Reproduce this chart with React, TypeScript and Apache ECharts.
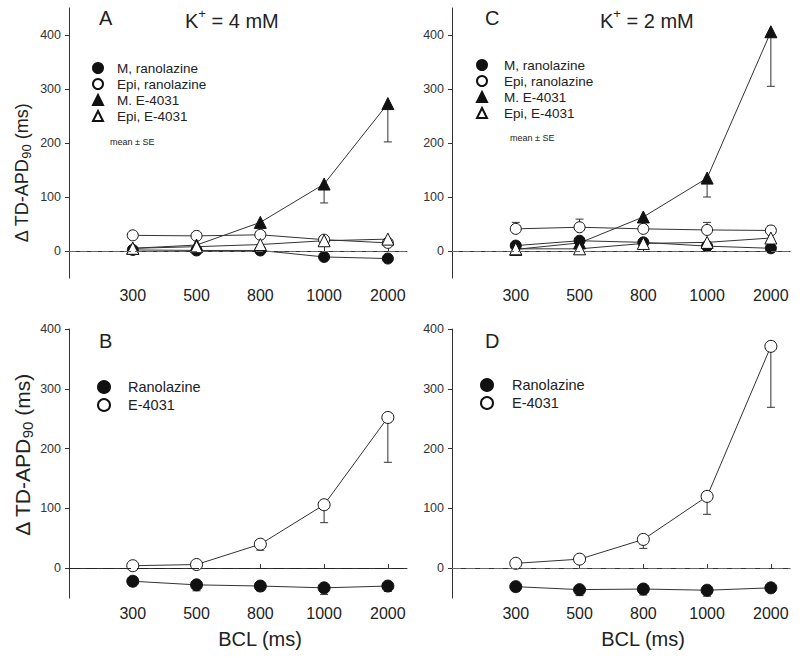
import React, { useEffect, useRef } from "react";
import * as echarts from "echarts";

const categories = ["300", "500", "800", "1000", "2000"];

// Panel A (K+ = 4 mM)
const aMRan = [2, 1, 1, -11, -14];
const aEpiRan = [29, 28, 30, 21, 15];
const aME4031 = [5, 11, 53, 124, 273];
const aME4031SE = [3, 4, 8, 35, 71];
const aEpiE4031 = [5, 8, 12, 19, 22];

// Panel C (K+ = 2 mM)
const cMRan = [10, 19, 16, 9, 5];
const cEpiRan = [41, 44, 41, 39, 38];
const cEpiRanSE = [12, 15, 6, 14, 8];
const cME4031 = [3, 15, 63, 135, 406];
const cME4031SE = [3, 5, 8, 35, 101];
const cEpiE4031 = [4, 4, 14, 16, 24];

// Panel B (K+ = 4 mM, transmural dispersion)
const bRan = [-22, -28, -30, -33, -30];
const bRanSE = [3, 10, 8, 11, 9];
const bE4031 = [4, 6, 40, 106, 252];
const bE4031SE = [2, 3, 10, 30, 75];

// Panel D (K+ = 2 mM)
const dRan = [-31, -36, -35, -37, -33];
const dRanSE = [8, 10, 10, 10, 6];
const dE4031 = [8, 15, 48, 120, 371];
const dE4031SE = [3, 4, 15, 30, 102];

const yTicks = [0, 100, 200, 300, 400];
const xPositions = [1, 2, 3, 4, 5];

const FONT = "'Liberation Sans', Arial, Helvetica, sans-serif";
const INK = "#222";

const pts = (vals: number[]) => vals.map((v, i) => [xPositions[i], v]);
const errPts = (vals: number[], se: number[], dir: number) =>
  vals.map((v, i) => [xPositions[i], v, v + dir * se[i]]);

function errRender(params: any, api: any) {
  const x = api.value(0);
  const p0 = api.coord([x, api.value(1)]);
  const p1 = api.coord([x, api.value(2)]);
  const hw = 4;
  const st = { stroke: "#333", lineWidth: 1 };
  return {
    type: "group",
    children: [
      { type: "line", shape: { x1: p0[0], y1: p0[1], x2: p1[0], y2: p1[1] }, style: st },
      { type: "line", shape: { x1: p1[0] - hw, y1: p1[1], x2: p1[0] + hw, y2: p1[1] }, style: st },
    ],
  };
}

const filled = { color: "#111", borderColor: "#111", borderWidth: 1 };
const hollow = { color: "#fff", borderColor: "#111", borderWidth: 1 };

function lineSeries(name: string, vals: number[], grid: number, symbol: string, style: any, size: number, extra: any = {}) {
  return {
    type: "line",
    name,
    xAxisIndex: grid,
    yAxisIndex: grid,
    data: pts(vals),
    symbol,
    symbolSize: size,
    itemStyle: style,
    lineStyle: { color: "#333", width: 1 },
    z: 3,
    ...extra,
  };
}

function errSeries(vals: number[], se: number[], dir: number, grid: number) {
  return {
    type: "custom",
    xAxisIndex: grid,
    yAxisIndex: grid,
    renderItem: errRender,
    encode: { x: 0, y: [1, 2] },
    data: errPts(vals, se, dir),
    z: 2,
    silent: true,
  };
}

function zeroLine(dash: number[], color: string) {
  return {
    silent: true,
    symbol: "none",
    label: { show: false },
    lineStyle: { type: dash, color, width: 1 },
    data: [{ yAxis: 0 }],
  };
}

export default function App() {
  const ref = useRef<HTMLDivElement>(null);
  useEffect(() => {
    if (!ref.current) return;
    const chart = echarts.init(ref.current, undefined, { renderer: "svg" });

    const grids = [
      { left: 69, top: 8, width: 338, height: 270 },
      { left: 452, top: 8, width: 338, height: 270 },
      { left: 69, top: 329, width: 338, height: 269 },
      { left: 452, top: 329, width: 338, height: 269 },
    ];

    const xAxes = grids.map((g, i) => ({
      type: "value",
      gridIndex: i,
      min: 0,
      max: 5.3,
      splitLine: { show: false },
      axisLine: { lineStyle: { color: "#333", width: 1 } },
      axisTick: { show: true, inside: true, length: 4, customValues: xPositions, lineStyle: { color: "#333" } },
      axisLabel: {
        customValues: xPositions,
        formatter: (v: number) => categories[Math.round(v) - 1] ?? "",
        fontSize: 16,
        color: INK,
        fontFamily: FONT,
        margin: i < 2 ? 9 : 7,
      },
      ...(i >= 2
        ? {
            name: "BCL (ms)",
            nameLocation: "middle",
            nameGap: 31,
            nameTextStyle: { fontSize: 20, color: INK, fontFamily: FONT, padding: [0, 0, 0, 44] },
          }
        : {}),
    }));

    const yAxes = grids.map((g, i) => ({
      type: "value",
      gridIndex: i,
      min: -50,
      max: i < 2 ? 450 : 400,
      splitLine: { show: false },
      axisLine: { show: true, lineStyle: { color: "#333", width: 1 } },
      axisTick: { show: true, length: 4, customValues: yTicks, lineStyle: { color: "#333" } },
      axisLabel: { customValues: yTicks, fontSize: 12.5, color: "#333", fontFamily: FONT, margin: 8 },
    }));

    const legendBase = {
      orient: "vertical",
      padding: 0,
      selectedMode: false,
      itemGap: 0,
    };

    const option: any = {
      animation: false,
      backgroundColor: "#fff",
      grid: grids,
      xAxis: xAxes,
      yAxis: yAxes,
      legend: [
        {
          ...legendBase,
          left: 92,
          top: 60,
          itemWidth: 10,
          itemHeight: 10,
          textStyle: { fontSize: 13.5, color: INK, fontFamily: FONT, lineHeight: 16, padding: [0, 0, 0, 9] },
          data: [
            { name: "M, ranolazine", icon: "circle" },
            { name: "Epi, ranolazine", icon: "circle" },
            { name: "M. E-4031", icon: "triangle" },
            { name: "Epi, E-4031", icon: "triangle" },
          ],
        },
        {
          ...legendBase,
          left: 476,
          top: 57,
          itemWidth: 10,
          itemHeight: 10,
          textStyle: { fontSize: 13.5, color: INK, fontFamily: FONT, lineHeight: 16, padding: [0, 0, 0, 12] },
          data: [
            { name: "M, ranolazine", icon: "circle" },
            { name: "Epi, ranolazine", icon: "circle" },
            { name: "M. E-4031", icon: "triangle" },
            { name: "Epi, E-4031", icon: "triangle" },
          ],
        },
        {
          ...legendBase,
          left: 97,
          top: 378,
          itemWidth: 12,
          itemHeight: 12,
          textStyle: { fontSize: 14.5, color: INK, fontFamily: FONT, lineHeight: 18, padding: [0, 0, 0, 13] },
          data: [
            { name: "Ranolazine", icon: "circle" },
            { name: "E-4031", icon: "circle" },
          ],
        },
        {
          ...legendBase,
          left: 480,
          top: 376,
          itemWidth: 12,
          itemHeight: 12,
          textStyle: { fontSize: 14.5, color: INK, fontFamily: FONT, lineHeight: 18, padding: [0, 0, 0, 14] },
          data: [
            { name: "Ranolazine", icon: "circle" },
            { name: "E-4031", icon: "circle" },
          ],
        },
      ],
      graphic: [
        { type: "text", x: 99, y: 18, style: { text: "A", fontSize: 20, fontFamily: FONT, fill: INK, verticalAlign: "middle" } },
        { type: "text", x: 485, y: 18, style: { text: "C", fontSize: 20, fontFamily: FONT, fill: INK, verticalAlign: "middle" } },
        { type: "text", x: 99, y: 341, style: { text: "B", fontSize: 20, fontFamily: FONT, fill: INK, verticalAlign: "middle" } },
        { type: "text", x: 485, y: 341, style: { text: "D", fontSize: 20, fontFamily: FONT, fill: INK, verticalAlign: "middle" } },
        {
          type: "text",
          x: 185,
          y: 19,
          style: {
            text: "{k|K}{p|+}{k| = 4 mM}",
            verticalAlign: "middle",
            fill: INK,
            rich: {
              k: { fontSize: 20, fontFamily: FONT, fill: INK, lineHeight: 24, verticalAlign: "bottom" },
              p: { fontSize: 13, fontFamily: FONT, fill: INK, lineHeight: 13, verticalAlign: "top" },
            },
          },
        },
        {
          type: "text",
          x: 600,
          y: 19,
          style: {
            text: "{k|K}{p|+}{k| = 2 mM}",
            verticalAlign: "middle",
            fill: INK,
            rich: {
              k: { fontSize: 20, fontFamily: FONT, fill: INK, lineHeight: 24, verticalAlign: "bottom" },
              p: { fontSize: 13, fontFamily: FONT, fill: INK, lineHeight: 13, verticalAlign: "top" },
            },
          },
        },
        { type: "text", x: 110, y: 142, style: { text: "mean ± SE", fontSize: 9, fontFamily: FONT, fill: INK, verticalAlign: "middle" } },
        { type: "text", x: 510, y: 138, style: { text: "mean ± SE", fontSize: 9, fontFamily: FONT, fill: INK, verticalAlign: "middle" } },
        {
          type: "text",
          x: 23,
          y: 173,
          rotation: Math.PI / 2,
          style: {
            text: "{a|Δ TD-APD}{s|90}{a| (ms)}",
            align: "center",
            verticalAlign: "middle",
            fill: INK,
            rich: {
              a: { fontSize: 18, fontFamily: FONT, fill: INK, lineHeight: 20, verticalAlign: "top" },
              s: { fontSize: 13, fontFamily: FONT, fill: INK, lineHeight: 13, padding: [9, 0, 0, 0], verticalAlign: "bottom" },
            },
          },
        },
        {
          type: "text",
          x: 23,
          y: 455,
          rotation: Math.PI / 2,
          style: {
            text: "{a|Δ TD-APD}{s|90}{a| (ms)}",
            align: "center",
            verticalAlign: "middle",
            fill: INK,
            rich: {
              a: { fontSize: 21, fontFamily: FONT, fill: INK, lineHeight: 23, verticalAlign: "top" },
              s: { fontSize: 15, fontFamily: FONT, fill: INK, lineHeight: 15, padding: [10, 0, 0, 0], verticalAlign: "bottom" },
            },
          },
        },
      ],
      series: [
        // Panel A
        errSeries(aME4031, aME4031SE, -1, 0),
        lineSeries("M, ranolazine", aMRan, 0, "circle", filled, 11, { markLine: zeroLine([7, 4], "#666") }),
        lineSeries("Epi, ranolazine", aEpiRan, 0, "circle", hollow, 11),
        lineSeries("M. E-4031", aME4031, 0, "triangle", filled, 12),
        lineSeries("Epi, E-4031", aEpiE4031, 0, "triangle", hollow, 12),
        // Panel C
        errSeries(cEpiRan, cEpiRanSE, 1, 1),
        errSeries(cME4031, cME4031SE, -1, 1),
        lineSeries("M, ranolazine", cMRan, 1, "circle", filled, 11, { markLine: zeroLine([7, 4], "#666") }),
        lineSeries("Epi, ranolazine", cEpiRan, 1, "circle", hollow, 11),
        lineSeries("M. E-4031", cME4031, 1, "triangle", filled, 12),
        lineSeries("Epi, E-4031", cEpiE4031, 1, "triangle", hollow, 12),
        // Panel B
        errSeries(bRan, bRanSE, -1, 2),
        errSeries(bE4031, bE4031SE, -1, 2),
        lineSeries("Ranolazine", bRan, 2, "circle", filled, 12, { markLine: zeroLine([11, 6], "#222") }),
        lineSeries("E-4031", bE4031, 2, "circle", hollow, 12),
        // Panel D
        errSeries(dRan, dRanSE, -1, 3),
        errSeries(dE4031, dE4031SE, -1, 3),
        lineSeries("Ranolazine", dRan, 3, "circle", filled, 12, { markLine: zeroLine([9, 5], "#666") }),
        lineSeries("E-4031", dE4031, 3, "circle", hollow, 12),
      ],
    };

    chart.setOption(option);
    return () => chart.dispose();
  }, []);

  return (
    <div
      ref={ref}
      style={{ position: "absolute", left: 0, top: 0, width: 800, height: 658, background: "#fff" }}
    />
  );
}
